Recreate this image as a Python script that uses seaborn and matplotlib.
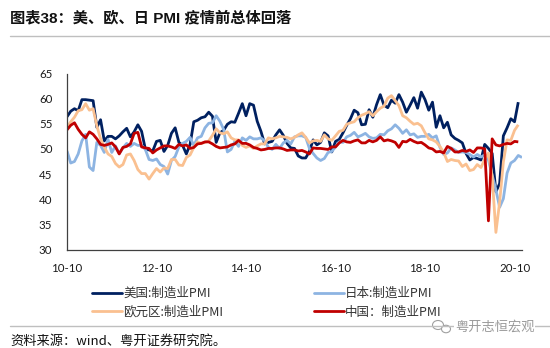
import matplotlib
matplotlib.use("Agg")
import matplotlib.pyplot as plt
from matplotlib.lines import Line2D
from matplotlib.patches import Ellipse
import pandas as pd
import seaborn as sns

# Monthly manufacturing PMI, first point 2010-09
tick_labels = ["10-10", "12-10", "14-10", "16-10", "18-10", "20-10"]
tick_months = [0, 24, 48, 72, 96, 120]

us_pmi = [
    56.4, 57.5, 58.0, 57.6,
    59.8, 59.8, 59.7, 59.6, 54.3, 55.8, 51.6, 52.5, 52.5, 52.0, 52.6, 53.4,
    54.1, 52.4, 53.4, 54.8, 53.5, 50.0, 49.8, 49.6, 51.5, 51.7, 49.5, 50.7,
    53.1, 54.2, 51.3, 50.7, 49.0, 50.9, 55.4, 55.7, 56.2, 56.4, 57.3, 56.5,
    51.3, 53.2, 53.7, 54.9, 55.4, 55.3, 57.1, 59.0, 56.6, 59.0, 58.7, 55.5,
    53.5, 51.0, 51.3, 51.5, 52.8, 53.8, 52.7, 51.1, 50.2, 50.1, 48.6, 48.2,
    48.2, 49.5, 51.8, 50.8, 51.3, 53.2, 52.6, 49.4, 51.5, 51.9, 53.2, 54.7,
    56.0, 57.7, 57.2, 54.8, 54.9, 57.8, 56.3, 58.8, 60.8, 58.7, 58.2, 59.7,
    59.1, 60.8, 59.3, 57.3, 58.7, 60.2, 58.1, 61.3, 59.8, 57.7, 59.3, 54.3,
    56.6, 54.2, 55.3, 52.8, 52.1, 51.7, 51.2, 49.1, 47.8, 48.3, 48.1, 47.8,
    50.9, 50.1, 49.1, 41.5, 43.1, 52.6, 54.2, 56.0, 55.4, 59.3,
]

japan_pmi = [
    49.6, 47.2, 47.5, 49.0,
    51.6, 52.9, 46.4, 45.7, 51.3, 50.7, 49.3, 51.9, 49.3, 50.6, 49.1, 50.2,
    51.1, 50.5, 51.1, 50.7, 50.7, 49.9, 47.9, 47.7, 48.0, 46.9, 46.5, 45.0,
    47.7, 48.5, 50.4, 51.1, 51.5, 52.3, 50.7, 52.2, 52.5, 54.2, 55.1, 55.2,
    56.6, 55.5, 53.9, 49.4, 49.9, 51.5, 50.5, 52.2, 51.7, 52.4, 52.0, 52.0,
    52.2, 51.6, 50.3, 49.9, 50.9, 50.1, 51.2, 51.7, 51.0, 52.4, 52.6, 52.6,
    52.3, 50.1, 49.1, 48.2, 47.7, 48.1, 49.3, 49.5, 50.4, 51.4, 51.3, 52.4,
    52.7, 53.3, 52.4, 52.7, 53.1, 52.4, 52.1, 52.2, 52.9, 52.8, 53.6, 54.0,
    54.8, 54.1, 53.1, 53.8, 52.8, 53.0, 52.3, 52.5, 52.5, 52.9, 52.2, 52.6,
    50.3, 48.9, 49.2, 50.2, 49.8, 49.3, 49.4, 49.3, 48.9, 48.4, 48.9, 48.4,
    48.8, 47.8, 44.8, 41.9, 38.4, 40.1, 45.2, 47.2, 47.7, 48.7, 48.3,
]

euro_pmi = [
    54.3, 55.4, 56.3, 57.6,
    57.8, 59.0, 57.7, 58.0, 54.6, 52.0, 50.4, 49.0, 48.5, 47.1, 46.4, 46.9,
    48.8, 49.0, 47.7, 45.9, 45.1, 45.1, 44.0, 45.1, 46.1, 45.4, 46.2, 46.1,
    47.9, 47.9, 46.8, 46.7, 48.3, 48.8, 50.3, 51.4, 51.1, 51.3, 51.6, 52.7,
    54.0, 53.2, 53.0, 53.4, 52.2, 51.8, 51.8, 50.7, 50.3, 50.6, 50.1, 50.6,
    51.0, 51.0, 52.2, 52.0, 52.2, 52.5, 52.4, 52.3, 52.0, 52.3, 52.8, 53.2,
    52.3, 51.2, 51.6, 51.7, 51.5, 52.8, 52.0, 51.7, 52.6, 53.5, 53.7, 54.9,
    55.2, 55.4, 56.2, 56.7, 57.0, 57.4, 56.6, 57.4, 58.1, 58.5, 60.1, 60.6,
    59.6, 58.6, 56.6, 56.2, 55.5, 54.9, 55.1, 54.6, 53.2, 52.0, 51.8, 51.4,
    50.5, 49.3, 47.5, 47.9, 47.7, 47.6, 46.5, 47.0, 45.7, 45.9, 46.9, 46.3,
    47.9, 49.2, 44.5, 33.4, 39.4, 47.4, 51.8, 51.7, 53.7, 54.8,
]

china_pmi = [
    53.8, 54.7, 55.2, 53.9,
    52.9, 52.2, 53.4, 52.9, 52.0, 50.9, 50.7, 50.9, 51.2, 50.4, 49.0, 50.3,
    50.5, 51.0, 53.1, 53.3, 50.4, 50.2, 50.1, 49.2, 49.8, 50.2, 50.6, 50.6,
    50.4, 50.1, 50.9, 50.6, 50.8, 50.1, 50.3, 51.0, 51.1, 51.4, 51.4, 51.0,
    50.5, 50.2, 50.3, 50.4, 50.8, 51.0, 51.7, 51.1, 51.1, 50.8, 50.3, 50.1,
    49.8, 49.9, 50.1, 50.1, 50.2, 50.2, 50.0, 49.7, 49.8, 49.8, 49.6, 49.7,
    49.4, 49.0, 50.2, 50.1, 50.1, 50.0, 49.9, 50.4, 50.4, 51.2, 51.7, 51.4,
    51.3, 51.6, 51.8, 51.2, 51.2, 51.7, 51.4, 51.7, 52.4, 51.6, 51.8, 51.6,
    51.3, 50.3, 51.5, 51.4, 51.9, 51.5, 51.2, 51.3, 50.8, 50.2, 50.0, 49.4,
    49.5, 49.2, 50.5, 50.1, 49.4, 49.4, 49.7, 49.5, 49.8, 49.3, 50.2, 50.2,
    50.0, 35.7, 52.0, 50.8, 50.6, 50.9, 51.1, 51.0, 51.5, 51.4,
]

series_names = ["美国:制造业PMI", "日本:制造业PMI", "欧元区:制造业PMI", "中国：制造业PMI"]
series_values = [us_pmi, japan_pmi, euro_pmi, china_pmi]
series_colors = ["#002060", "#8DB4E2", "#FAC090", "#C00000"]

frames = []
for name, vals in zip(series_names, series_values):
    frames.append(pd.DataFrame({"month": range(len(vals)), "pmi": vals, "series": name}))
df = pd.concat(frames, ignore_index=True)

sns.set_style("white")
plt.rcParams["font.family"] = ["Lato", "Noto Sans CJK SC", "DejaVu Sans"]

W, H = 550, 348
fig = plt.figure(figsize=(W / 100, H / 100), dpi=100)
ax = fig.add_axes([67 / W, 1 - 249.5 / H, (522 - 67) / W, (249.5 - 73.5) / H])

palette = dict(zip(series_names, series_colors))
sns.lineplot(data=df, x="month", y="pmi", hue="series", hue_order=series_names,
             palette=palette, linewidth=2.0, legend=False, ax=ax,
             solid_joinstyle="round", solid_capstyle="butt")

ax.set_xlim(0, 122)
ax.set_ylim(30, 65)
ax.set_yticks(range(30, 66, 5))
ax.set_xticks(tick_months)
ax.set_xticklabels(tick_labels)
ax.set_xlabel("")
ax.set_ylabel("")
for side in ("top", "right"):
    ax.spines[side].set_visible(False)
for side in ("left", "bottom"):
    ax.spines[side].set_color("#404040")
    ax.spines[side].set_linewidth(0.9)
ax.tick_params(axis="both", direction="in", length=3.5, width=0.9, color="#404040",
               labelsize=8.3, labelcolor="#1a1a1a")
ax.tick_params(axis="y", pad=10.5)
ax.tick_params(axis="x", pad=9.5)

# Title and rules
fig.text(10 / W, 1 - 18 / H, "图表38：美、欧、日 PMI 疫情前总体回落",
         fontsize=11, fontweight="bold", va="center", ha="left",
         family=["Liberation Sans", "Noto Sans CJK SC"], color="#111111")
fig.add_artist(Line2D([10 / W, 1.0], [1 - 35.5 / H] * 2, transform=fig.transFigure,
                      color="#BFBFBF", linewidth=1.0))
fig.add_artist(Line2D([10 / W, 1.0], [1 - 326 / H] * 2, transform=fig.transFigure,
                      color="#BFBFBF", linewidth=1.0))

# Legend: two columns
lw_handles = {n: Line2D([], [], color=c, linewidth=2.0) for n, c in zip(series_names, series_colors)}
legend_cols = [(92, [series_names[0], series_names[2]]), (314, [series_names[1], series_names[3]])]
for x0, names in legend_cols:
    leg = fig.legend([lw_handles[n] for n in names], names, loc="upper left",
                     bbox_to_anchor=(x0 / W, 1 - 287 / H), frameon=False,
                     fontsize=9, handlelength=2.4, handletextpad=0.1,
                     borderpad=0, borderaxespad=0, labelspacing=0.45,
                     prop={"family": ["Noto Sans CJK SC"], "size": 9})
    for t in leg.get_texts():
        t.set_color("#333333")

# Source note
fig.text(10 / W, 1 - 341 / H, "资料来源：wind、粤开证券研究院。", fontsize=9.5,
         va="center", ha="left", style="italic",
         family=["Noto Sans CJK SC"], color="#111111")

# Watermark
fig.text(455 / W, 1 - 327 / H, "粤开志恒宏观", fontsize=9.5, va="center", ha="left",
         family=["Noto Sans CJK SC"], color="#9a9a9a",
         bbox=dict(facecolor="white", edgecolor="none", pad=0.5))
fig.add_artist(Ellipse((438 / W, 1 - 325 / H), 11 / W, 9 / H, transform=fig.transFigure,
                       facecolor="white", edgecolor="#a0a0a0", linewidth=0.8))
fig.add_artist(Ellipse((446 / W, 1 - 329 / H), 9 / W, 7.5 / H, transform=fig.transFigure,
                       facecolor="white", edgecolor="#a0a0a0", linewidth=0.8))

fig.savefig("out.png", dpi=100, facecolor="white")
